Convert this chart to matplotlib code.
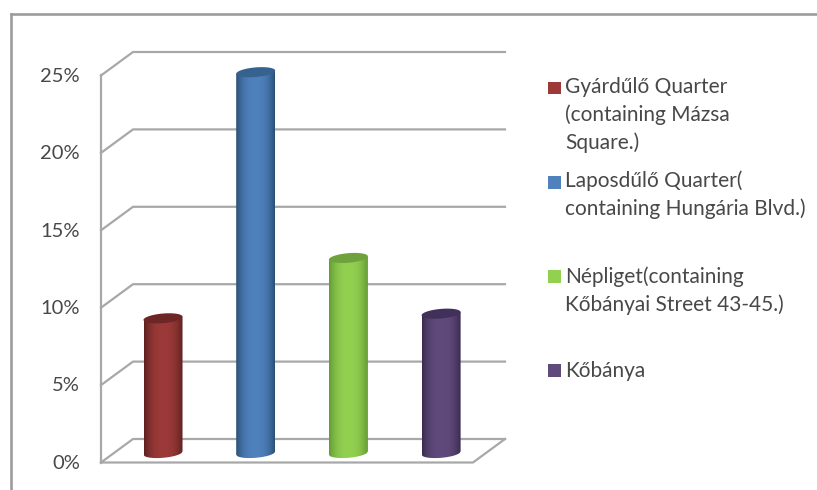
#!/usr/bin/env python3
"""Fake-3D cylinder column chart with a hand placed legend."""
import numpy as np
import matplotlib
matplotlib.use("Agg")
import matplotlib.pyplot as plt
from matplotlib.lines import Line2D
from matplotlib.patches import PathPatch, Rectangle
from matplotlib.path import Path

values = [8.7, 24.6, 12.6, 9.0]
ticks = [0, 5, 10, 15, 20, 25]
tick_labels = ["0%", "5%", "10%", "15%", "20%", "25%"]
colors = ["#9b3a38", "#4f81bd", "#92d050", "#604a7b"]
dark_colors = ["#5e2120", "#2c5075", "#659a35", "#3a2b50"]
top_colors = ["#6b2625", "#35628f", "#6fa23c", "#41315a"]
legend_lines = [
    ["Gyárdűlő Quarter", "(containing Mázsa", "Square.)"],
    ["Laposdűlő Quarter(", "containing Hungária Blvd.)"],
    ["Népliget(containing", "Kőbányai Street 43-45.)"],
    ["Kőbánya"],
]

W, H = 817, 490
plt.rcParams["font.family"] = ["Lato", "DejaVu Sans"]
fig = plt.figure(figsize=(W / 100, H / 100), dpi=100)
ax = fig.add_axes([0, 0, 1, 1])
ax.axis("off")

# scales: categories 93 px apart, 15.48 px per percent, zero at y=462.5
sx, sy = 92.7, 15.48
ax.set_xlim(-163 / sx, (W - 163) / sx)
ax.set_ylim(-(H - 462.5) / sy, 462.5 / sy)

GRID = "#a8a8a8"
LW = 1.6
left, right = (101 - 163) / sx, (473 - 163) / sx
dx, dy = 32 / sx, 23.5 / sy


def fig_xy(x, y):
    return x / W, 1 - y / H


# outer frame
for xs, ys in [((11, 11), (14, H)), ((11, W), (14, 14))]:
    fx, fy = fig_xy(np.array(xs), np.array(ys))
    fig.add_artist(Line2D(fx, fy, color="#9c9c9c", lw=1.9))

# walls and gridlines
for t, lab in zip(ticks, tick_labels):
    ax.plot([left, left + dx, right + dx], [t, t + dy, t + dy], color=GRID, lw=LW, zorder=1)
    ax.text(left - 21 / sx, t - 0.05, lab, ha="right", va="center", fontsize=14.5, color="#484848")
ax.plot([left, left], [0, ticks[-1]], color=GRID, lw=LW, zorder=1)
ax.plot([left, right, right + dx], [0, 0, dy], color=GRID, lw=LW, zorder=1)

# cylinders
half_w = 19.5 / sx
ry = 4.8 / sy
tilt = 1.6 / sy
base = 9.5 / sy
t = np.linspace(0, 2 * np.pi, 80)
g = np.linspace(-1, 1, 64)
shade = (np.abs(g) ** 2.5)[None, :, None]
for i, v in enumerate(values):
    c0 = np.array(matplotlib.colors.to_rgb(colors[i]))
    c1 = np.array(matplotlib.colors.to_rgb(dark_colors[i]))
    grad = c0[None, None, :] * (1 - shade) + c1[None, None, :] * shade
    y0, y1 = base, base + v
    upper = np.linspace(half_w, -half_w, 40)
    lower = np.linspace(-half_w, half_w, 40)
    yb = y0 - ry * np.sqrt(np.clip(1 - (lower / half_w) ** 2, 0, 1)) + tilt * lower / half_w
    yt = y1 + tilt * upper / half_w
    verts = np.r_[np.c_[i + lower, yb], np.c_[i + upper, yt]]
    body = PathPatch(Path(np.r_[verts, verts[:1]]), fc="none", ec="none", transform=ax.transData)
    ax.add_patch(body)
    im = ax.imshow(grad, extent=[i - half_w, i + half_w, y0 - ry - tilt, y1 + tilt],
                   aspect="auto", zorder=3, interpolation="bilinear")
    im.set_clip_path(body)
    ax.fill(i + half_w * np.cos(t), y1 + ry * np.sin(t) + tilt * np.cos(t),
            color=top_colors[i], lw=0, zorder=4)
# imshow resets the limits
ax.set_xlim(-163 / sx, (W - 163) / sx)
ax.set_ylim(-(H - 462.5) / sy, 462.5 / sy)

# legend
square_tops = [82, 176, 270, 364]
first_lines = [87, 181, 277, 371]
for color, top, y, lines in zip(colors, square_tops, first_lines, legend_lines):
    fx, fy = fig_xy(548, top + 12.5)
    fig.add_artist(Rectangle((fx, fy), 12.5 / W, 12.5 / H, fc=color, ec="none",
                             transform=fig.transFigure))
    for n, line in enumerate(lines):
        fx, fy = fig_xy(565, y + n * 28)
        fig.text(fx, fy, line, ha="left", va="center", fontsize=15, color="#484848")

fig.savefig("out.png", dpi=100, facecolor="white")
